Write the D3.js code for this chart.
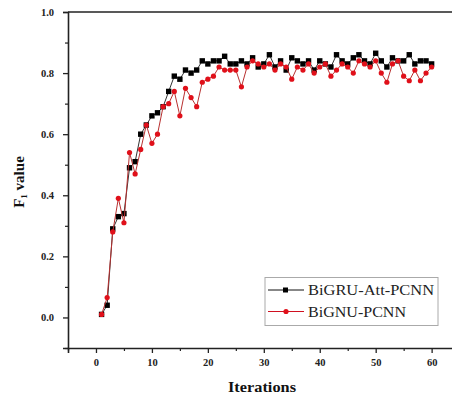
<!DOCTYPE html>
<html><head><meta charset="utf-8">
<script src="https://cdn.jsdelivr.net/npm/d3@7"></script>
<style>body{margin:0;background:#fff}svg{display:block}</style>
</head><body>
<svg id="c" width="452" height="403"></svg>
<script>
const iterations = d3.range(1, 61);
const bigruAtt = [0.01,0.04,0.29,0.33,0.34,0.49,0.51,0.60,0.63,0.66,
  0.67,0.69,0.74,0.79,0.78,0.81,0.80,0.81,0.84,0.83,
  0.84,0.84,0.855,0.83,0.83,0.84,0.83,0.85,0.82,0.83,
  0.86,0.82,0.84,0.81,0.85,0.84,0.83,0.84,0.81,0.84,
  0.83,0.82,0.86,0.84,0.83,0.85,0.86,0.84,0.83,0.865,
  0.84,0.82,0.85,0.84,0.84,0.86,0.83,0.84,0.84,0.83];
const bignu = [0.01,0.065,0.28,0.39,0.31,0.54,0.47,0.55,0.63,0.57,
  0.60,0.69,0.70,0.74,0.66,0.75,0.72,0.69,0.77,0.78,
  0.79,0.82,0.81,0.81,0.81,0.755,0.82,0.84,0.83,0.82,
  0.83,0.81,0.83,0.82,0.78,0.82,0.81,0.83,0.80,0.82,
  0.83,0.79,0.81,0.83,0.82,0.80,0.84,0.83,0.82,0.84,
  0.80,0.77,0.83,0.84,0.79,0.775,0.81,0.775,0.80,0.82];
const xTicks = [0,10,20,30,40,50,60];
const yTicks = [0.0,0.2,0.4,0.6,0.8,1.0];
const seriesNames = ["BiGRU-Att-PCNN","BiGNU-PCNN"];

const svg = d3.select("#c");
const pL = 68, pT = 12, pB = 348, pR = 459.6;
const x = d3.scaleLinear().domain([-5, 65]).range([pL, pR]);
const y = d3.scaleLinear().domain([-0.1, 1.0]).range([pB, pT]);
const serif = "'Liberation Serif','Times New Roman',serif";

// frame
svg.append("line").attr("x1", pL).attr("x2", pR).attr("y1", pT).attr("y2", pT)
  .attr("stroke", "#222").attr("stroke-width", 1.6);

// x axis
const xAxis = svg.append("g").attr("transform", `translate(0,${pB})`)
  .call(d3.axisBottom(x).tickValues(xTicks).tickSize(5).tickPadding(6).tickFormat(d3.format("d")));
xAxis.select(".domain").attr("stroke", "#222").attr("stroke-width", 1.6);
xAxis.selectAll(".tick line").attr("stroke", "#222").attr("stroke-width", 1.3);
xAxis.selectAll("text").attr("font-family", serif).attr("font-weight", "bold").attr("font-size", 10.5).attr("fill", "#222");
svg.append("g").attr("transform", `translate(0,${pB})`)
  .call(d3.axisBottom(x).tickValues([-5,5,15,25,35,45,55]).tickSize(3).tickFormat(""))
  .call(g => { g.select(".domain").remove(); g.selectAll("line").attr("stroke", "#222").attr("stroke-width", 1.2); });

// y axis
const yAxis = svg.append("g").attr("transform", `translate(${pL},0)`)
  .call(d3.axisLeft(y).tickValues(yTicks).tickSize(5).tickPadding(9).tickFormat(d3.format(".1f")));
yAxis.select(".domain").attr("stroke", "#222").attr("stroke-width", 1.6);
yAxis.selectAll(".tick line").attr("stroke", "#222").attr("stroke-width", 1.3);
yAxis.selectAll("text").attr("font-family", serif).attr("font-weight", "bold").attr("font-size", 10.5).attr("fill", "#222");
svg.append("g").attr("transform", `translate(${pL},0)`)
  .call(d3.axisLeft(y).tickValues([-0.1,0.1,0.3,0.5,0.7,0.9]).tickSize(3).tickFormat(""))
  .call(g => { g.select(".domain").remove(); g.selectAll("line").attr("stroke", "#222").attr("stroke-width", 1.2); });

// axis titles
svg.append("text").attr("x", 262).attr("y", 392).attr("text-anchor", "middle")
  .attr("font-family", serif).attr("font-weight", "bold").attr("font-size", 15).attr("fill", "#111")
  .attr("textLength", 68).attr("lengthAdjust", "spacingAndGlyphs")
  .text("Iterations");
const yt = svg.append("text").attr("transform", "translate(24,182) rotate(-90)").attr("text-anchor", "middle")
  .attr("font-family", serif).attr("font-weight", "bold").attr("font-size", 15).attr("fill", "#111");
yt.append("tspan").text("F");
yt.append("tspan").attr("font-size", 9).attr("dy", 3).text("1");
yt.append("tspan").attr("dy", -3).text(" value");

// series
const line = d3.line().x((d, i) => x(iterations[i])).y(d => y(d));
svg.append("path").datum(bigruAtt).attr("d", line).attr("fill", "none")
  .attr("stroke", "#333").attr("stroke-width", 1);
svg.append("g").selectAll("rect").data(bigruAtt).join("rect")
  .attr("x", (d, i) => x(iterations[i]) - 2.7).attr("y", d => y(d) - 2.7)
  .attr("width", 5.4).attr("height", 5.4).attr("fill", "#000");
svg.append("path").datum(bignu).attr("d", line).attr("fill", "none")
  .attr("stroke", "#b83030").attr("stroke-width", 1);
svg.append("g").selectAll("circle").data(bignu).join("circle")
  .attr("cx", (d, i) => x(iterations[i])).attr("cy", d => y(d)).attr("r", 2.6)
  .attr("fill", "#e0101a");

// legend
const lg = svg.append("g");
lg.append("rect").attr("x", 265).attr("y", 277.5).attr("width", 173).attr("height", 48)
  .attr("fill", "#fff").attr("stroke", "#aaa").attr("stroke-width", 1);
const colorsL = ["#111", "#d01020"];
seriesNames.forEach((n, k) => {
  const yy = 290 + k * 21.5;
  lg.append("line").attr("x1", 268).attr("x2", 304).attr("y1", yy).attr("y2", yy)
    .attr("stroke", colorsL[k]).attr("stroke-width", 1);
  if (k === 0) lg.append("rect").attr("x", 283).attr("y", yy - 2.5).attr("width", 5).attr("height", 5).attr("fill", "#000");
  else lg.append("circle").attr("cx", 286).attr("cy", yy).attr("r", 2.6).attr("fill", "#e0101a");
  lg.append("text").attr("x", 308).attr("y", yy + 5).attr("font-family", serif)
    .attr("font-size", 15).attr("fill", "#222").attr("textLength", k === 0 ? 126 : 98)
    .attr("lengthAdjust", "spacingAndGlyphs").text(n);
});
</script>
</body></html>
